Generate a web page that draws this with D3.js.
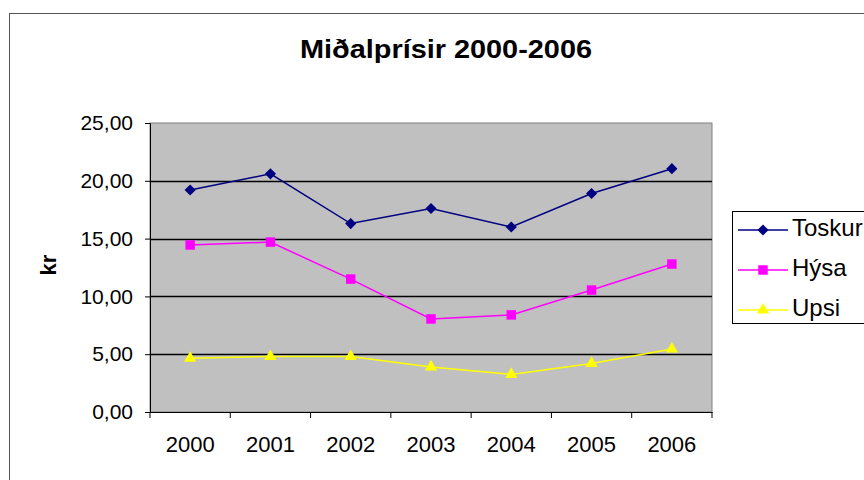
<!DOCTYPE html>
<html>
<head>
<meta charset="utf-8">
<script src="https://cdn.jsdelivr.net/npm/d3@7"></script>
<style>
  body { margin: 0; background: #fff; }
  svg { display: block; font-family: "Liberation Sans", Arial, sans-serif; }
</style>
</head>
<body>
<svg width="864" height="480"></svg>
<script>
const years = ["2000", "2001", "2002", "2003", "2004", "2005", "2006"];
const yTicks = [0, 5, 10, 15, 20, 25];
const toskur = [19.2, 20.6, 16.3, 17.6, 16.0, 18.9, 21.05];
const hysa = [14.45, 14.7, 11.5, 8.05, 8.4, 10.55, 12.8];
const upsi = [4.65, 4.8, 4.8, 3.9, 3.25, 4.2, 5.45];

const seriesNames = ["Toskur", "Hýsa", "Upsi"];
const seriesColors = ["#000080", "#ff00ff", "#ffff00"];
const series = [toskur, hysa, upsi];

// marker shapes: diamond is a rotated square
const markerPath = [
  d3.symbol().type(d3.symbolSquare).size(62)(),
  d3.symbol().type(d3.symbolSquare).size(90)(),
  d3.symbol().type(d3.symbolTriangle).size(65)()
];
const markerRot = [45, 0, 0];

let svg = d3.select("svg");

// outer frame
svg.append("rect")
    .attr("x", 9.5).attr("y", 13.5)
    .attr("width", 900).attr("height", 500)
    .attr("fill", "none").attr("stroke", "#555").attr("stroke-width", 1);

const plotL = 150, plotR = 712, plotT = 123, plotB = 412;

let x = d3.scaleBand().domain(years).range([plotL, plotR]);
let y = d3.scaleLinear().domain([0, 25]).range([plotB, plotT]);

// plot background
svg.append("rect")
    .attr("x", plotL).attr("y", plotT)
    .attr("width", plotR - plotL).attr("height", plotB - plotT)
    .attr("fill", "#c0c0c0").attr("stroke", "#808080");

// gridlines
svg.append("g")
    .selectAll("line")
    .data(yTicks.filter(d => d > 0 && d < 25))
    .enter().append("line")
      .attr("x1", plotL).attr("x2", plotR)
      .attr("y1", d => Math.round(y(d)) + 0.5).attr("y2", d => Math.round(y(d)) + 0.5)
      .attr("stroke", "#000").attr("stroke-width", 1.3);

// axes
let yAxis = svg.append("g")
    .attr("transform", "translate(" + plotL + ",0)")
    .call(d3.axisLeft(y).tickValues(yTicks).tickSize(5).tickPadding(12)
        .tickFormat(d => d3.format(".2f")(d).replace(".", ",")));
yAxis.select(".domain").attr("stroke", "#000");
yAxis.selectAll("text").style("font-size", "21px").attr("fill", "#000");

let xAxis = svg.append("g")
    .attr("transform", "translate(0," + plotB + ")")
    .call(d3.axisBottom(x).tickSize(0).tickPadding(24));
xAxis.select(".domain").attr("stroke", "#000");
xAxis.selectAll("text").style("font-size", "22px").attr("fill", "#000");

// category boundary ticks
svg.append("g")
    .selectAll("line")
    .data(years.concat(["end"]))
    .enter().append("line")
      .attr("x1", (d, i) => i < years.length ? x(d) : plotR)
      .attr("x2", (d, i) => i < years.length ? x(d) : plotR)
      .attr("y1", plotB).attr("y2", plotB + 6)
      .attr("stroke", "#000");

// lines and markers
const cx = d => x(d) + x.bandwidth() / 2;
series.forEach((vals, s) => {
  let line = d3.line()
      .x((d, i) => cx(years[i]))
      .y(d => y(d));
  svg.append("path")
      .datum(vals)
      .attr("d", line)
      .attr("fill", "none")
      .attr("stroke", seriesColors[s])
      .attr("stroke-width", 1.5);
  svg.append("g")
    .selectAll("path")
    .data(vals)
    .enter().append("path")
      .attr("transform", (d, i) => "translate(" + cx(years[i]) + "," + y(d) + ") rotate(" + markerRot[s] + ")")
      .attr("d", markerPath[s])
      .attr("fill", seriesColors[s]);
});

// title
svg.append("text")
    .attr("x", 300).attr("y", 58)
    .attr("textLength", 292).attr("lengthAdjust", "spacingAndGlyphs")
    .style("font-size", "25px").style("font-weight", "bold")
    .text("Miðalprísir 2000-2006");

// y label
svg.append("text")
    .attr("transform", "translate(56,265) rotate(-90)")
    .attr("text-anchor", "middle")
    .style("font-size", "22px").style("font-weight", "bold")
    .text("kr");

// legend
let legend = svg.append("g");
legend.append("rect")
    .attr("x", 732.5).attr("y", 211.5)
    .attr("width", 200).attr("height", 112)
    .attr("fill", "#fff").attr("stroke", "#000");
seriesNames.forEach((name, s) => {
  let ly = 230 + s * 40;
  legend.append("line")
      .attr("x1", 738).attr("x2", 788)
      .attr("y1", ly).attr("y2", ly)
      .attr("stroke", seriesColors[s]).attr("stroke-width", 1.5);
  legend.append("path")
      .attr("transform", "translate(763," + ly + ") rotate(" + markerRot[s] + ")")
      .attr("d", markerPath[s])
      .attr("fill", seriesColors[s]);
  legend.append("text")
      .attr("x", 792).attr("y", ly)
      .attr("dominant-baseline", "middle")
      .style("font-size", "24px")
      .text(name);
});
</script>
</body>
</html>
